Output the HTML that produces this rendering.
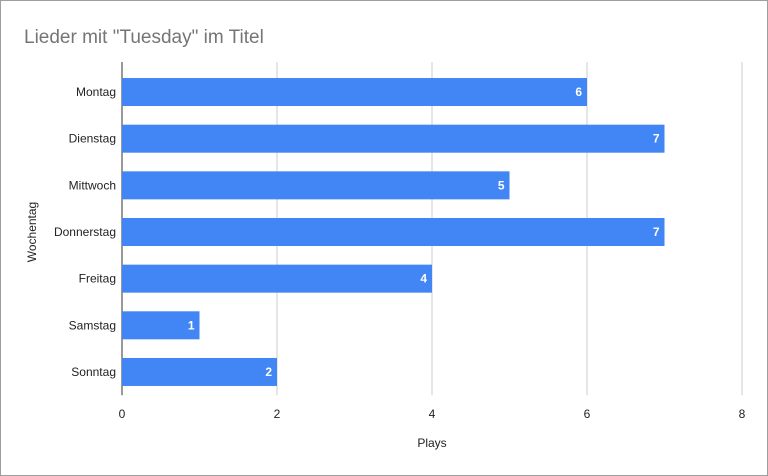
<!DOCTYPE html>
<html><head><meta charset="utf-8"><style>
html,body{margin:0;padding:0;background:#fff;}
svg{display:block;font-family:"Liberation Sans",Arial,sans-serif;}
</style></head><body>
<svg id="chart" width="768" height="476" viewBox="0 0 768 476">
<rect x="0.5" y="0.5" width="767" height="475" fill="#fff" stroke="#9e9e9e"/>
<text x="24" y="43" font-size="19" fill="#757575">Lieder mit "Tuesday" im Titel</text>
<g id="grid"></g>
<g id="bars"></g>
<g id="ylabels"></g>
<g id="xlabels"></g>
<text x="432" y="447" font-size="12" text-anchor="middle" fill="#222">Plays</text>
<text transform="translate(36,232) rotate(-90)" font-size="12" text-anchor="middle" fill="#222">Wochentag</text>
</svg>
<script>
const categories=["Montag","Dienstag","Mittwoch","Donnerstag","Freitag","Samstag","Sonntag"];
const plays=[6,7,5,7,4,1,2];
const xTicks=[0,2,4,6,8];
const NS="http://www.w3.org/2000/svg";
const x0=122,x1=742,xMax=8,gridTop=62,plotTop=68.7,plotBottom=395.3;
function xs(v){return x0+(x1-x0)*v/xMax;}
const band=(plotBottom-plotTop)/categories.length;
function yc(i){return plotTop+band*(i+0.5);}
function mk(tag,attrs,parent,text){const e=document.createElementNS(NS,tag);for(const k in attrs)e.setAttribute(k,attrs[k]);if(text!==undefined)e.textContent=text;document.getElementById(parent).appendChild(e);return e;}
xTicks.forEach(t=>{
  const g=mk('line',{x1:xs(t),x2:xs(t),y1:gridTop,y2:plotBottom,stroke:t===0?'#333':'#ccc','stroke-width':1},'grid');
  
  
  const l=mk('text',{x:xs(t),y:418,'font-size':12,'text-anchor':'middle',fill:'#222'},'xlabels',String(t));
  
  
});
categories.forEach((c,i)=>{
  const h=28,y=yc(i)-h/2;
  const b=mk('rect',{x:x0,y:y,width:xs(plays[i])-x0,height:h,fill:'#4285f4'},'bars');
  
  
  const v=mk('text',{x:xs(plays[i])-5,y:yc(i)+4,'font-size':12,'font-weight':'bold','text-anchor':'end',fill:'#fff'},'bars',String(plays[i]));
  
  
  const l=mk('text',{x:116,y:yc(i)+4,'font-size':12,'text-anchor':'end',fill:'#222'},'ylabels',c);
  
  
});
</script>
</body></html>
